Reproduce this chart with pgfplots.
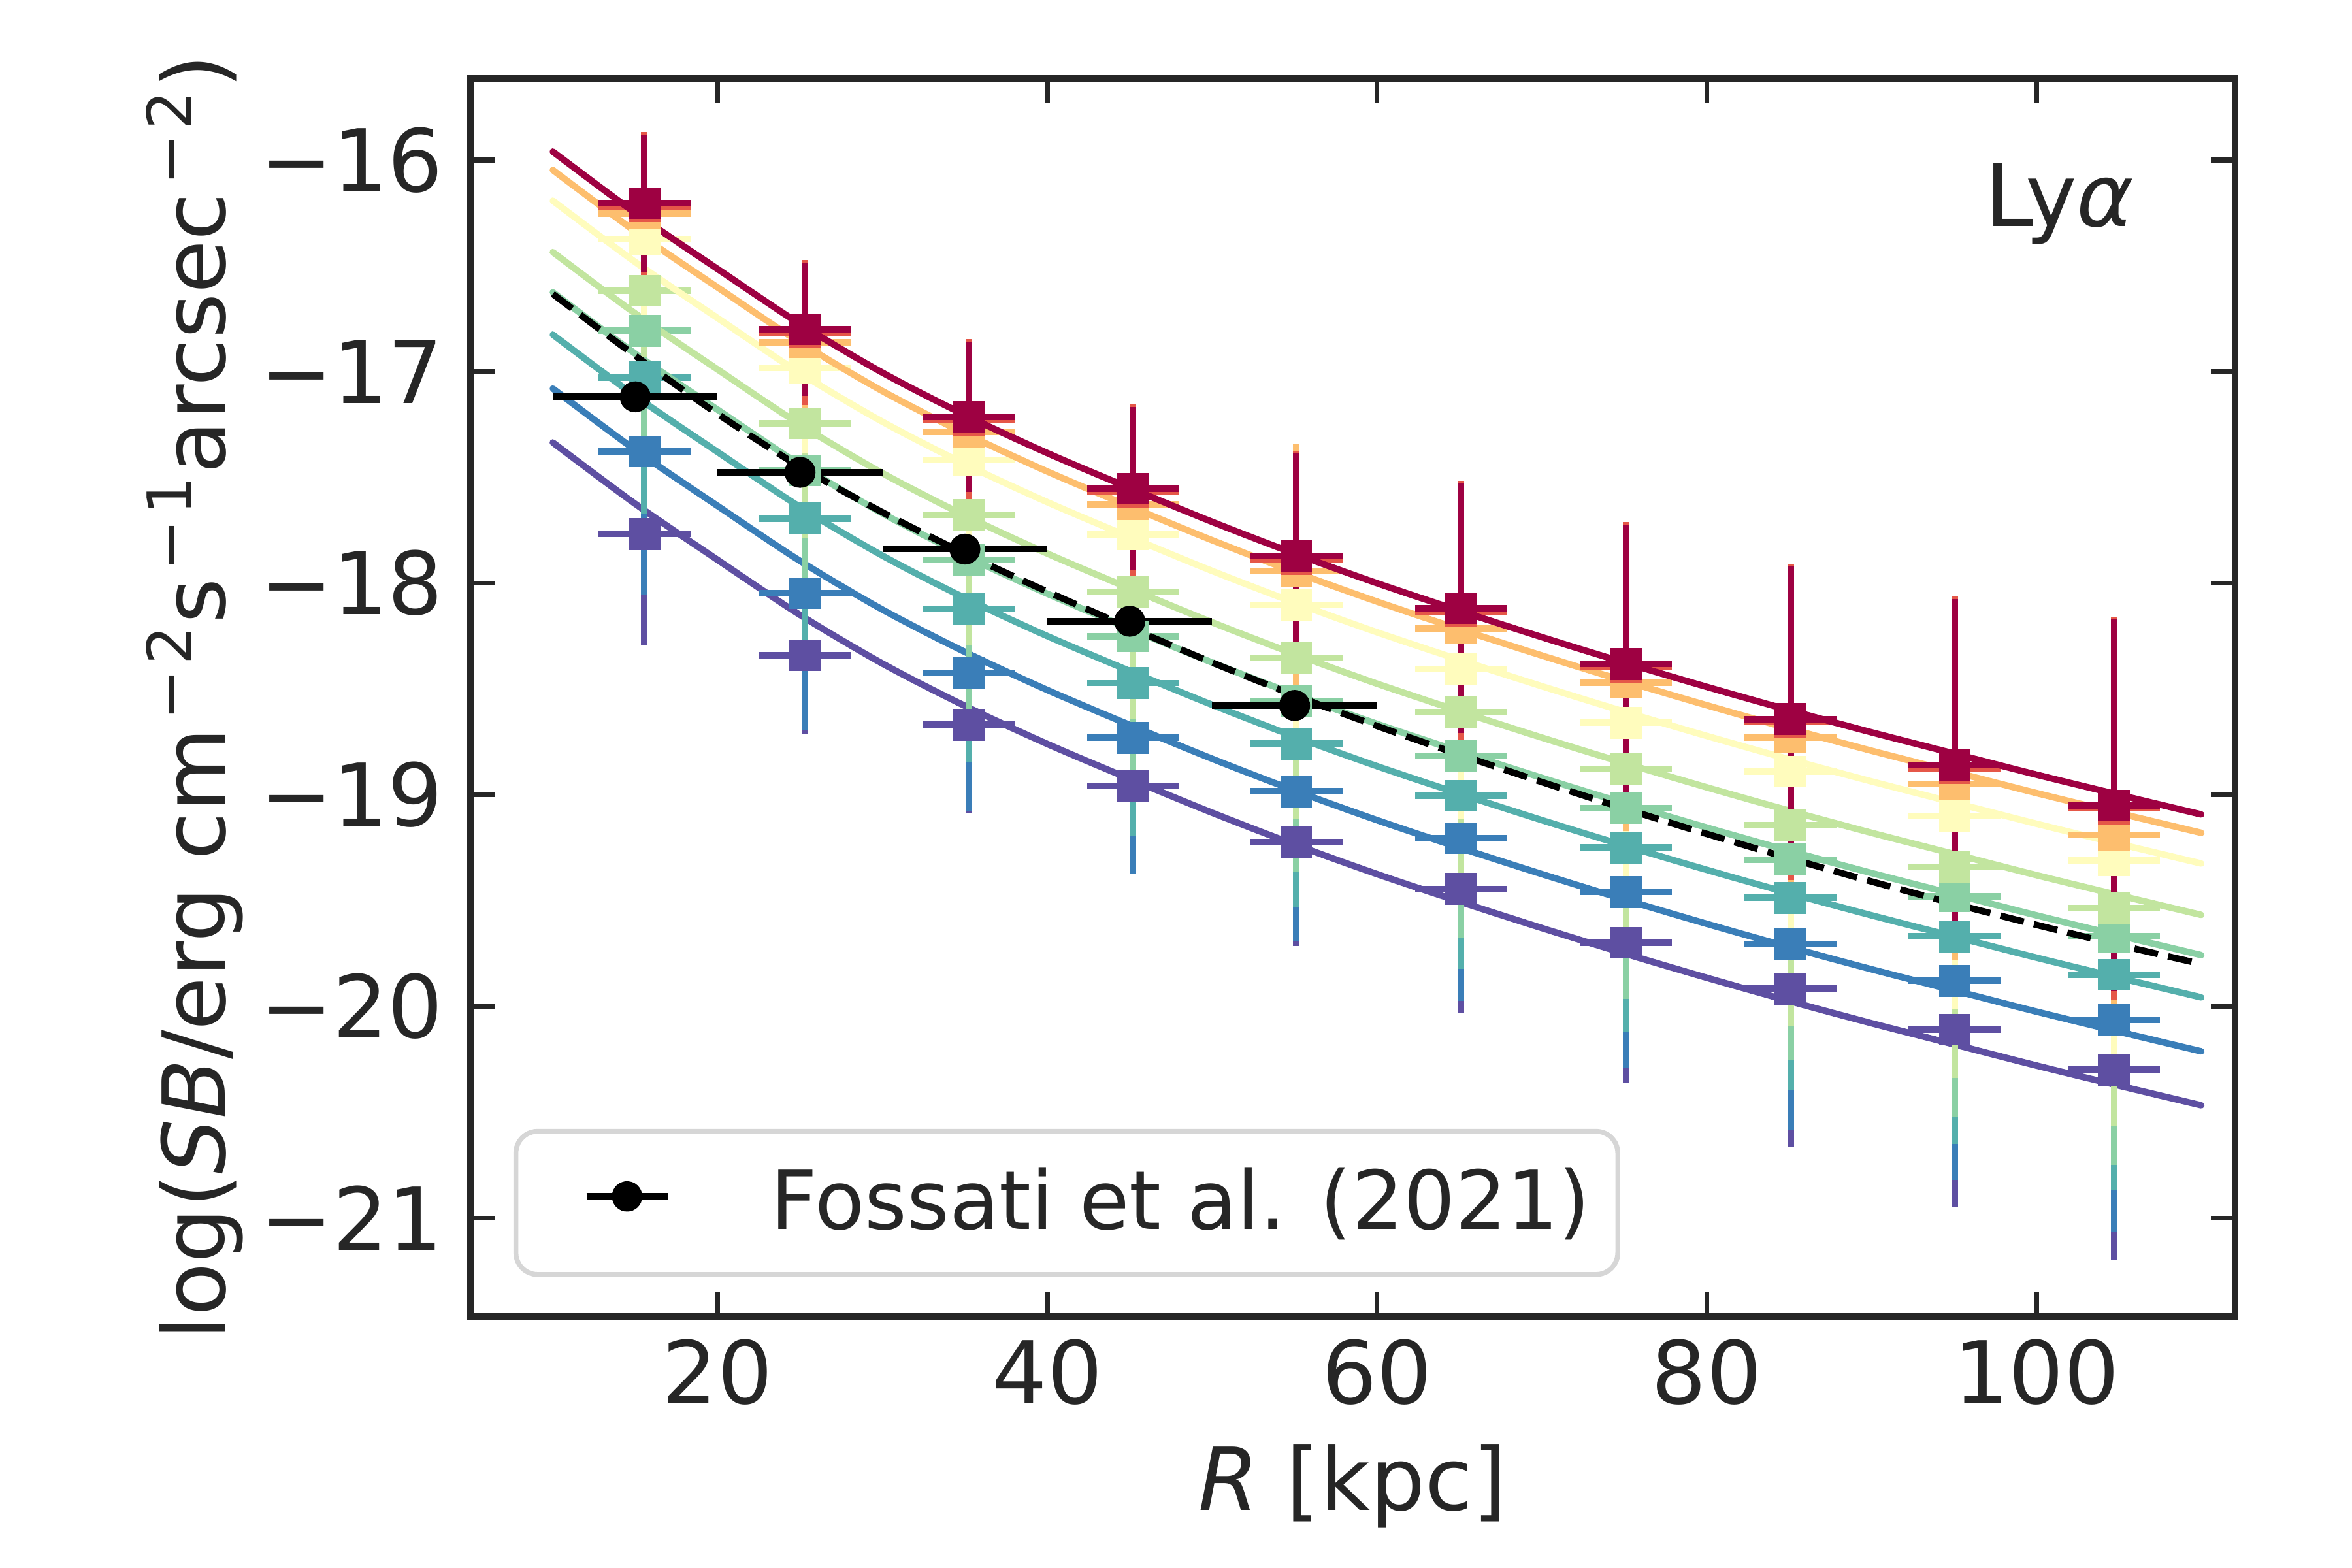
\documentclass[border=0pt]{standalone}
\usepackage{fontspec}
\setmainfont{DejaVu Sans}
\usepackage{pgfplots}
\pgfplotsset{compat=1.18}
\definecolor{tc}{HTML}{262626}
\definecolor{cCr}{HTML}{9E0142}
\definecolor{cRd}{HTML}{E55748}
\definecolor{cOr}{HTML}{FDBE6E}
\definecolor{cYe}{HTML}{FFFCBD}
\definecolor{cLg}{HTML}{C2E59F}
\definecolor{cMi}{HTML}{8AD0A4}
\definecolor{cTe}{HTML}{54AFAC}
\definecolor{cBl}{HTML}{3A7EB8}
\definecolor{cPu}{HTML}{5E4FA2}
\definecolor{legedge}{HTML}{D6D6D6}
\newcommand{\fsz}{\fontsize{16}{19.2}\selectfont}
\newcommand{\msup}[1]{\textsuperscript{\kern0.12em−\kern0.08em#1}}

\pgfplotsset{
  curve/.style={line width=1.2pt, line cap=round, smooth, tension=0.5, forget plot, no markers},
  pts/.style={color=#1, only marks, mark=square*, mark size=2.85pt,
    mark options={line width=0.1pt, solid}, forget plot,
    error bars/.cd, x dir=both, x explicit, y dir=both, y explicit,
    error mark=none, error bar style={line width=1.2pt, color=#1}},
}

\begin{document}
\begin{tikzpicture}
\useasboundingbox (-1.2in,-0.6417in) rectangle (4.8in,3.3583in);
\begin{axis}[
  at={(0,0)}, anchor=south west,
  scale only axis, width=4.5017in, height=3.1583in,
  xmin=5, xmax=112.05, ymin=-21.466, ymax=-15.614,
  xtick={20,40,60,80,100}, xticklabels={20,40,60,80,100},
  ytick={-21,-20,-19,-18,-17,-16}, yticklabels={−21,−20,−19,−18,−17,−16},
  tick align=inside, tick pos=both,
  major tick length=4.4pt,
  every tick/.style={line width=0.85pt, color=tc},
  axis line style={line width=1.1pt, color=tc},
  xticklabel style={font=\fsz, text=tc, inner sep=0pt, anchor=north, yshift=-4pt},
  yticklabel style={font=\fsz, text=tc, inner sep=0pt, anchor=east, xshift=-4.8pt},
  every axis x label/.style={at={(axis description cs:0.5,-0.1567)}, anchor=base, font=\fsz, text=tc},
  every axis y label/.style={at={(axis description cs:-0.1391,0.5)}, rotate=90, anchor=base, font=\fsz, text=tc},
  xlabel={{\itshape R} [kpc]},
  ylabel={log({\itshape SB}/erg cm\msup{2}s\msup{1}arcsec\msup{2})},
  legend style={at={(axis description cs:0.0244,0.0319)}, anchor=south west,
    draw=legedge, line width=0.9pt, rounded corners=4pt, fill=white,
    inner xsep=0pt, inner ysep=0pt, font=\fontsize{15}{18}\selectfont, text=tc,
    nodes={inner sep=0pt, text depth=0pt}, cells={anchor=west}},
]

% ---------- purple ----------
\addplot[curve, color=cPu] coordinates {
(10,-17.335) (15,-17.625) (20,-17.89) (25,-18.15) (30,-18.38) (35,-18.58) (40,-18.76)
(45,-18.925) (50,-19.085) (55,-19.235) (60,-19.375) (65,-19.505) (70,-19.63) (75,-19.75)
(80,-19.865) (85,-19.975) (90,-20.08) (95,-20.18) (100,-20.28) (105,-20.375) (110,-20.468)};
\addplot[pts=cPu] table[x=x, y=y, x error=ex, y error=ey] {
x y ex ey
15.56 -17.768 2.8 0.526
25.3 -18.341 2.8 0.375
35.23 -18.669 2.8 0.42
45.2 -18.958 2.8 0.35
55.1 -19.224 2.8 0.49
65.1 -19.445 2.8 0.585
75.1 -19.70 2.8 0.66
85.08 -19.917 2.8 0.75
95.05 -20.11 2.8 0.84
104.7 -20.30 2.8 0.90
};

% ---------- blue ----------
\addplot[curve, color=cBl] coordinates {
(10,-17.08) (15,-17.37) (20,-17.635) (25,-17.895) (30,-18.125) (35,-18.325) (40,-18.505)
(45,-18.67) (50,-18.83) (55,-18.98) (60,-19.12) (65,-19.25) (70,-19.375) (75,-19.495)
(80,-19.61) (85,-19.72) (90,-19.825) (95,-19.925) (100,-20.025) (105,-20.12) (110,-20.213)};
\addplot[pts=cBl] table[x=x, y=y, x error=ex, y error=ey] {
x y ex ey
15.56 -17.378 2.8 0.678
25.3 -18.047 2.8 0.646
35.23 -18.423 2.8 0.656
45.2 -18.731 2.8 0.64
55.1 -18.984 2.8 0.71
65.1 -19.206 2.8 0.77
75.1 -19.46 2.8 0.83
85.08 -19.707 2.8 0.88
95.05 -19.88 2.8 0.94
104.7 -20.065 2.8 1.0
};

% ---------- teal ----------
\addplot[curve, color=cTe] coordinates {
(10,-16.825) (15,-17.115) (20,-17.38) (25,-17.64) (30,-17.87) (35,-18.07) (40,-18.25)
(45,-18.415) (50,-18.575) (55,-18.725) (60,-18.865) (65,-18.995) (70,-19.12) (75,-19.24)
(80,-19.355) (85,-19.465) (90,-19.57) (95,-19.67) (100,-19.77) (105,-19.865) (110,-19.958)};
\addplot[pts=cTe] table[x=x, y=y, x error=ex, y error=ey] {
x y ex ey
15.56 -17.027 2.8 0.647
25.3 -17.694 2.8 0.69
35.23 -18.123 2.8 0.72
45.2 -18.472 2.8 0.725
55.1 -18.759 2.8 0.775
65.1 -19.004 2.8 0.82
75.1 -19.25 2.8 0.87
85.08 -19.488 2.8 0.91
95.05 -19.67 2.8 0.98
104.7 -19.85 2.8 1.02
};

% ---------- mint ----------
\addplot[curve, color=cMi] coordinates {
(10,-16.625) (15,-16.915) (20,-17.18) (25,-17.44) (30,-17.67) (35,-17.87) (40,-18.05)
(45,-18.215) (50,-18.375) (55,-18.525) (60,-18.665) (65,-18.795) (70,-18.92) (75,-19.04)
(80,-19.155) (85,-19.265) (90,-19.37) (95,-19.47) (100,-19.57) (105,-19.665) (110,-19.758)};
\addplot[pts=cMi] table[x=x, y=y, x error=ex, y error=ey] {
x y ex ey
15.56 -16.807 2.8 0.575
25.3 -17.467 2.8 0.64
35.23 -17.891 2.8 0.71
45.2 -18.252 2.8 0.78
55.1 -18.556 2.8 0.81
65.1 -18.816 2.8 0.86
75.1 -19.064 2.8 0.90
85.08 -19.306 2.8 0.95
95.05 -19.48 2.8 1.04
104.7 -19.67 2.8 1.08
};

% ---------- light green ----------
\addplot[curve, color=cLg] coordinates {
(10,-16.435) (15,-16.725) (20,-16.99) (25,-17.25) (30,-17.48) (35,-17.68) (40,-17.86)
(45,-18.025) (50,-18.185) (55,-18.335) (60,-18.475) (65,-18.605) (70,-18.73) (75,-18.85)
(80,-18.965) (85,-19.075) (90,-19.18) (95,-19.28) (100,-19.38) (105,-19.475) (110,-19.568)};
\addplot[pts=cLg] table[x=x, y=y, x error=ex, y error=ey] {
x y ex ey
15.56 -16.618 2.8 0.31
25.3 -17.245 2.8 0.54
35.23 -17.676 2.8 0.62
45.2 -18.041 2.8 0.60
55.1 -18.352 2.8 0.765
65.1 -18.608 2.8 0.83
75.1 -18.878 2.8 0.89
85.08 -19.145 2.8 0.95
95.05 -19.34 2.8 1.0
104.7 -19.535 2.8 1.03
};

% ---------- yellow ----------
\addplot[curve, color=cYe] coordinates {
(10,-16.192) (15,-16.482) (20,-16.747) (25,-17.007) (30,-17.237) (35,-17.437) (40,-17.617)
(45,-17.782) (50,-17.942) (55,-18.092) (60,-18.232) (65,-18.362) (70,-18.487) (75,-18.607)
(80,-18.722) (85,-18.832) (90,-18.937) (95,-19.037) (100,-19.137) (105,-19.232) (110,-19.325)};
\addplot[pts=cYe] table[x=x, y=y, x error=ex, y error=ey] {
x y ex ey
15.56 -16.373 2.8 0.40
25.3 -16.983 2.8 0.40
35.23 -17.417 2.8 0.40
45.2 -17.770 2.8 0.55
55.1 -18.104 2.8 0.64
65.1 -18.405 2.8 0.71
75.1 -18.66 2.8 0.79
85.08 -18.89 2.8 0.86
95.05 -19.10 2.8 0.91
104.7 -19.31 2.8 0.97
};

% ---------- orange ----------
\addplot[curve, color=cOr] coordinates {
(10,-16.047) (15,-16.337) (20,-16.602) (25,-16.862) (30,-17.092) (35,-17.292) (40,-17.472)
(45,-17.637) (50,-17.797) (55,-17.947) (60,-18.087) (65,-18.217) (70,-18.342) (75,-18.462)
(80,-18.577) (85,-18.687) (90,-18.792) (95,-18.892) (100,-18.992) (105,-19.087) (110,-19.18)};
\addplot[pts=cOr] table[x=x, y=y, x error=ex, y error=ey] {
x y ex ey
15.56 -16.253 2.8 0.34
25.3 -16.862 2.8 0.34
35.23 -17.284 2.8 0.39
45.2 -17.628 2.8 0.44
55.1 -17.944 2.8 0.60
65.1 -18.213 2.8 0.63
75.1 -18.47 2.8 0.70
85.08 -18.73 2.8 0.78
95.05 -18.95 2.8 0.83
104.7 -19.19 2.8 0.89
};

% ---------- red (mostly hidden) ----------
\addplot[pts=cRd] table[x=x, y=y, x error=ex, y error=ey] {
x y ex ey
15.56 -16.218 2.8 0.352
25.3 -16.815 2.8 0.342
35.23 -17.228 2.8 0.383
45.2 -17.569 2.8 0.413
55.1 -17.886 2.8 0.513
65.1 -18.134 2.8 0.617
75.1 -18.397 2.8 0.687
85.08 -18.657 2.8 0.747
95.05 -18.875 2.8 0.812
104.7 -19.065 2.8 0.905
};

% ---------- crimson ----------
\addplot[curve, color=cCr] coordinates {
(10,-15.96) (15,-16.25) (20,-16.515) (25,-16.775) (30,-17.005) (35,-17.205) (40,-17.385)
(45,-17.55) (50,-17.71) (55,-17.86) (60,-18.0) (65,-18.13) (70,-18.255) (75,-18.375)
(80,-18.49) (85,-18.6) (90,-18.705) (95,-18.805) (100,-18.905) (105,-19.0) (110,-19.093)};
\addplot[pts=cCr] table[x=x, y=y, x error=ex, y error=ey] {
x y ex ey
15.56 -16.203 2.8 0.325
25.3 -16.800 2.8 0.315
35.23 -17.213 2.8 0.356
45.2 -17.554 2.8 0.386
55.1 -17.871 2.8 0.486
65.1 -18.119 2.8 0.59
75.1 -18.382 2.8 0.66
85.08 -18.642 2.8 0.72
95.05 -18.86 2.8 0.785
104.7 -19.05 2.8 0.878
};

% ---------- Fossati et al. (2021) ----------
\addplot[black, line width=1.2pt, dash pattern=on 4.44pt off 1.92pt, smooth, tension=0.5, forget plot, no markers] coordinates {
(10,-16.633) (15,-16.925) (20,-17.2) (25,-17.45) (30,-17.665) (35,-17.86) (40,-18.04)
(45,-18.21) (50,-18.375) (55,-18.53) (60,-18.675) (65,-18.81) (70,-18.94) (75,-19.065)
(80,-19.185) (85,-19.3) (90,-19.41) (95,-19.515) (100,-19.615) (105,-19.71) (110,-19.8)};
\addplot[black, only marks, mark=*, mark size=2.8pt, mark options={line width=0.1pt},
  error bars/.cd, x dir=both, x explicit, error mark=none, error bar style={line width=1.2pt, black},
  /pgfplots/legend image code/.code={
    \draw[black, line width=1.2pt, solid] (0pt,5.3pt) -- (15pt,5.3pt);
    \fill[black, draw=none] (7.5pt,5.3pt) circle[radius=2.8pt];
    \path[draw=none, fill=none] (-13pt,-9.1pt) rectangle (34pt,17.3pt);
  }]
  table[x=x, y=y, x error=ex] {
x y ex
15 -17.119 5
25 -17.476 5
35 -17.839 5
45 -18.180 5
55 -18.578 5
};
\addlegendentry{\raisebox{-0.8pt}[0pt][0pt]{Fossati et al. (2021)}\kern5pt\relax}

\node[anchor=base east, font=\fsz, text=tc, inner sep=0pt] at (axis description cs:0.9433,0.8804) {Ly{\itshape α}};
\end{axis}
\end{tikzpicture}
\end{document}
